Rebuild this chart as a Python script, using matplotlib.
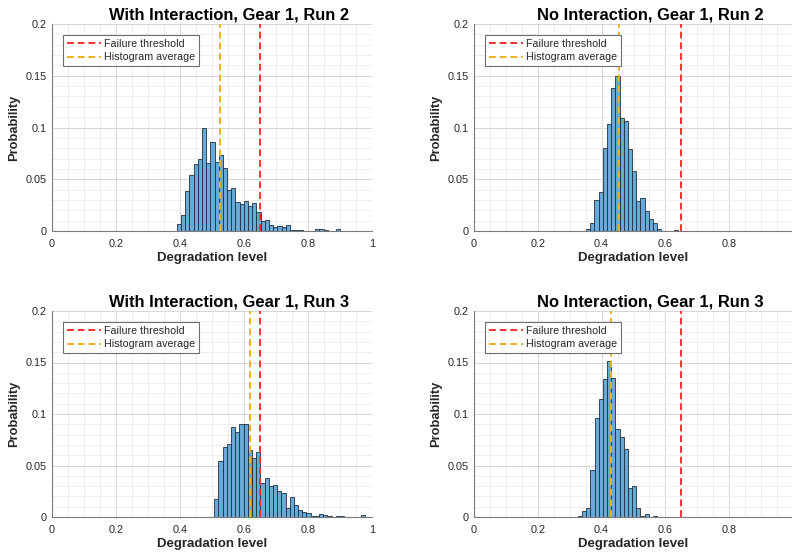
import numpy as np
import matplotlib
matplotlib.use("Agg")
import matplotlib.pyplot as plt
from matplotlib.ticker import MultipleLocator

plt.rcParams['font.family'] = ['Liberation Sans', 'DejaVu Sans']

# histogram bins (same width in every panel)
bin_width = 0.0131
threshold = 0.65

# With Interaction, Gear 1, Run 2
wi_r2_start = 0.39
wi_r2_prob = [0.007, 0.015, 0.039, 0.054, 0.065, 0.070, 0.100, 0.066, 0.086, 0.067,
              0.073, 0.061, 0.040, 0.042, 0.028, 0.026, 0.029, 0.024, 0.027, 0.018,
              0.010, 0.011, 0.0055, 0.004, 0.005, 0.004, 0.006, 0.001, 0.001, 0.001,
              0.0, 0.0, 0.0, 0.002, 0.002, 0.001, 0.0, 0.0, 0.0015]
wi_r2_avg = 0.525

# No Interaction, Gear 1, Run 2
ni_r2_start = 0.3515
ni_r2_prob = [0.0016, 0.0075, 0.030, 0.038, 0.080, 0.103, 0.138, 0.150, 0.109, 0.106,
              0.079, 0.058, 0.029, 0.032, 0.019, 0.012, 0.008, 0.0016, 0.0, 0.0,
              0.0, 0.001]
ni_r2_avg = 0.456

# With Interaction, Gear 1, Run 3
wi_r3_start = 0.507
wi_r3_prob = [0.017, 0.054, 0.068, 0.071, 0.087, 0.083, 0.090, 0.090, 0.065, 0.057,
              0.063, 0.033, 0.038, 0.030, 0.031, 0.025, 0.023, 0.009, 0.019, 0.012,
              0.007, 0.005, 0.0035, 0.001, 0.0005, 0.003, 0.002, 0.0008, 0.0004, 0.001,
              0.001, 0.0, 0.0, 0.0, 0.0, 0.0023]
wi_r3_avg = 0.618

# No Interaction, Gear 1, Run 3
ni_r3_start = 0.3254
ni_r3_prob = [0.001, 0.006, 0.009, 0.046, 0.096, 0.115, 0.134, 0.151, 0.135, 0.085,
              0.078, 0.066, 0.028, 0.030, 0.009, 0.0005, 0.003, 0.0, 0.001]
ni_r3_avg = 0.428

xticks = [0, 0.2, 0.4, 0.6, 0.8, 1]
xtick_labels = ['0', '0.2', '0.4', '0.6', '0.8', '1']
# right-hand panels are cropped at the figure edge, so the "1" is not shown
xtick_labels_cut = ['0', '0.2', '0.4', '0.6', '0.8', '']
yticks = [0, 0.05, 0.1, 0.15, 0.2]
ytick_labels = ['0', '0.05', '0.1', '0.15', '0.2']

W, H = 792, 557
fig = plt.figure(figsize=(W / 100, H / 100), dpi=100)


def px_axes(x0, y0, x1, y1):
    return fig.add_axes([x0 / W, 1 - y1 / H, (x1 - x0) / W, (y1 - y0) / H])


panels = [
    ("With Interaction, Gear 1, Run 2", wi_r2_start, wi_r2_prob, wi_r2_avg, (52, 24, 372, 231), xtick_labels),
    ("No Interaction, Gear 1, Run 2", ni_r2_start, ni_r2_prob, ni_r2_avg, (474, 24, 793, 231), xtick_labels_cut),
    ("With Interaction, Gear 1, Run 3", wi_r3_start, wi_r3_prob, wi_r3_avg, (52, 311, 372, 517), xtick_labels),
    ("No Interaction, Gear 1, Run 3", ni_r3_start, ni_r3_prob, ni_r3_avg, (474, 311, 793, 517), xtick_labels_cut),
]

text_col = '#262626'

for title, start, prob, avg, rect, xlabels in panels:
    ax = px_axes(*rect)
    edges = start + bin_width * np.arange(len(prob) + 1)
    ax.hist(edges[:-1] + bin_width / 2, bins=edges, weights=prob,
            color='#66aad7', edgecolor='#1f3040', linewidth=0.6, zorder=2)
    ax.axvline(threshold, color='#ff3030', ls=(0, (3.5, 2)), lw=1.4, zorder=3,
               label='Failure threshold')
    ax.axvline(avg, color='#edb120', ls=(0, (3.5, 2)), lw=1.4, zorder=3,
               label='Histogram average')

    ax.set_xlim(0, 1)
    ax.set_ylim(0, 0.2)
    ax.set_xticks(xticks)
    ax.set_xticklabels(xlabels)
    ax.set_yticks(yticks)
    ax.set_yticklabels(ytick_labels)
    ax.xaxis.set_minor_locator(MultipleLocator(0.05))
    ax.yaxis.set_minor_locator(MultipleLocator(0.01))
    ax.grid(which='major', color='#d6d6d6', lw=0.7, zorder=0)
    ax.grid(which='minor', color='#ebebeb', lw=0.6, zorder=0)
    ax.set_axisbelow(True)
    ax.tick_params(which='both', direction='in', length=0, labelsize=7.8,
                   labelcolor=text_col)
    ax.tick_params(axis='x', pad=6)
    ax.tick_params(axis='y', pad=4)
    for s in ['top', 'right']:
        ax.spines[s].set_visible(False)
    for s in ['left', 'bottom']:
        ax.spines[s].set_color('#7a7a7a')
        ax.spines[s].set_linewidth(0.8)

    ax.set_title(title, fontsize=11.9, fontweight='bold', x=0.553, pad=3, color='black')
    ax.set_xlabel('Degradation level', fontsize=9.5, fontweight='bold', color=text_col,
                  labelpad=2)
    ax.set_ylabel('Probability', fontsize=9.3, fontweight='bold', color=text_col,
                  labelpad=4)

    leg = ax.legend(loc='upper left', bbox_to_anchor=(0.034, 0.945), borderaxespad=0,
                    fontsize=7.7, fancybox=False, framealpha=1, edgecolor='#6e6e6e',
                    handlelength=3.2, handletextpad=0.3, borderpad=0.35,
                    labelspacing=0.3)
    leg.get_frame().set_linewidth(0.8)
    for t in leg.get_texts():
        t.set_color(text_col)

fig.savefig('out.png', dpi=100)
